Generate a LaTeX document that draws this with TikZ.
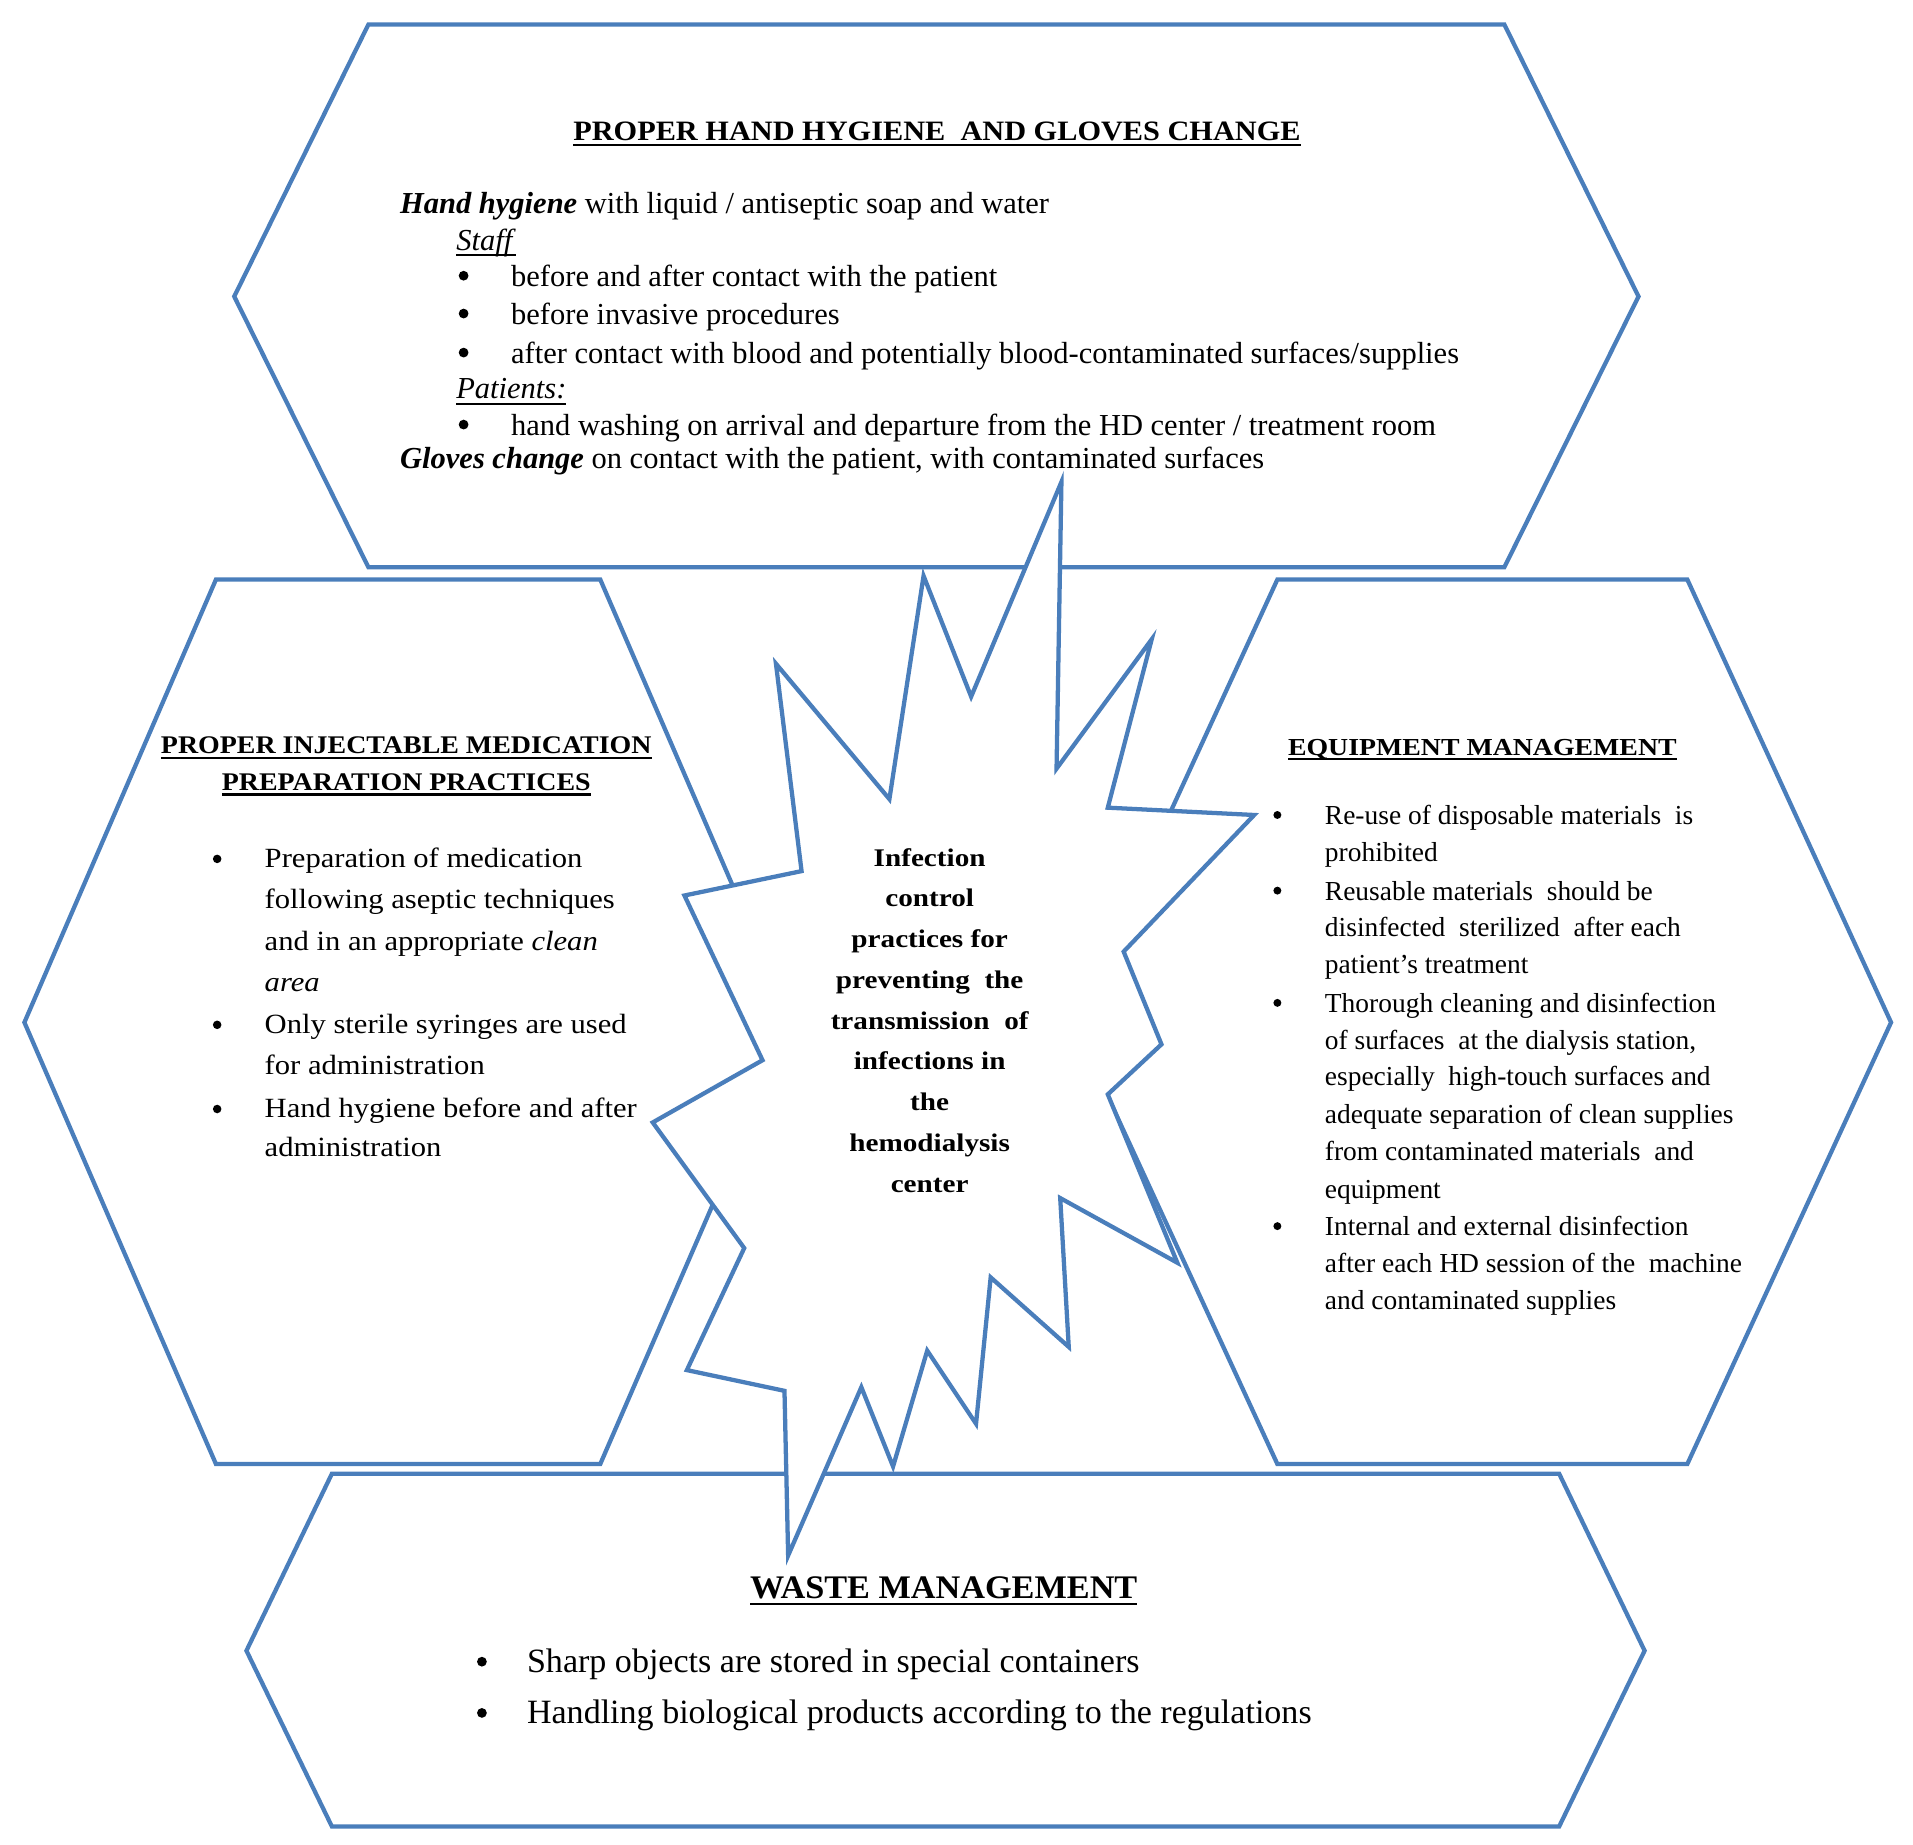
\documentclass[tikz,border=0pt]{standalone}
\usepackage{fontspec}
\setmainfont{Liberation Serif}
\newfontfamily\fTopT[FakeStretch=1.08]{Liberation Serif}
\newfontfamily\fLeft[FakeStretch=1.1]{Liberation Serif}
\newfontfamily\fRightT[FakeStretch=1.14]{Liberation Serif}
\newfontfamily\fCen[FakeStretch=1.15]{Liberation Serif}
\newfontfamily\fBotT[FakeStretch=1.04]{Liberation Serif}
\definecolor{hexblue}{RGB}{74,126,187}
\newsavebox{\ulbox}
\newcommand{\myul}[1]{\sbox{\ulbox}{#1}\rlap{\rule[-0.2em]{\wd\ulbox}{1.8pt}}\usebox{\ulbox}}
\tikzset{
  hex/.style={draw=hexblue, line width=3.5pt, line join=miter, fill=white},
  burst/.style={draw=hexblue, line width=3.5pt, line join=miter, fill=white},
  txt/.style={inner sep=0pt, outer sep=0pt, anchor=base west, text=black},
  ctxt/.style={inner sep=0pt, outer sep=0pt, anchor=base, text=black},
  bul/.style={circle, fill=black, draw=none, inner sep=0pt, minimum size=#1},
  topbody/.style={txt, font=\rmfamily\fontsize{25}{30}\selectfont},
  leftbody/.style={txt, font=\fLeft\fontsize{22.8}{34}\selectfont},
  lefttitle/.style={ctxt, font=\fLeft\bfseries\fontsize{20.8}{30}\selectfont},
  rightbody/.style={txt, font=\rmfamily\fontsize{22.5}{30}\selectfont},
  righttitle/.style={ctxt, font=\fRightT\bfseries\fontsize{20}{30}\selectfont},
  centtxt/.style={ctxt, font=\fCen\bfseries\fontsize{20.8}{33}\selectfont},
  botbody/.style={txt, font=\rmfamily\fontsize{27.9}{40}\selectfont},
}
\begin{document}
\begin{tikzpicture}[x=1pt,y=-1pt]
\useasboundingbox (0,0) rectangle (1568,1512);

% hexagons
\draw[hex] (302,20) -- (1233,20) -- (1343,243) -- (1233,465) -- (302,465) -- (192,243) -- cycle;
\draw[hex] (177,475) -- (492,475) -- (649,838) -- (492,1200) -- (177,1200) -- (20,838) -- cycle;
\draw[hex] (1047,475) -- (1383,475) -- (1550,838) -- (1383,1200) -- (1047,1200) -- (880,838) -- cycle;
\draw[hex] (272,1208) -- (1278,1208) -- (1348,1353) -- (1278,1497) -- (272,1497) -- (202,1353) -- cycle;

% starburst
\draw[burst] (870,395) -- (866,630) -- (944,524) -- (908,662) -- (1028,668) -- (921,780)
  -- (952,856) -- (908,897) -- (965,1035) -- (869,982) -- (876,1104) -- (812,1047)
  -- (800,1167) -- (760,1107) -- (732,1202) -- (706,1137) -- (646,1275) -- (643,1140)
  -- (563,1123) -- (610,1023) -- (535,920) -- (625,869) -- (561,734) -- (657,714)
  -- (636,544) -- (729,655) -- (757,472) -- (796,571) -- cycle;

% top hexagon text
\node[ctxt, font=\fTopT\bfseries\fontsize{23}{28}\selectfont] (ttitle) at (768,115) {\myul{PROPER HAND HYGIENE\ \ AND GLOVES CHANGE}};
\node[topbody] (t1) at (328,175) {\textbf{\textit{Hand hygiene}} with liquid / antiseptic soap and water};
\node[topbody] (t2) at (374,205) {\myul{\textit{Staff}}};
\node[bul=8pt] (tb1) at (380,226) {};
\node[topbody] (t3) at (419,235) {before and after contact with the patient};
\node[bul=8pt] (tb2) at (380,257) {};
\node[topbody] (t4) at (419,266) {before invasive procedures};
\node[bul=8pt] (tb3) at (380,289) {};
\node[topbody] (t5) at (419,298) {after contact with blood and potentially blood-contaminated surfaces/supplies};
\node[topbody] (t6) at (374,327) {\myul{\textit{Patients:}}};
\node[bul=8pt] (tb4) at (380,348) {};
\node[topbody] (t7) at (419,357) {hand washing on arrival and departure from the HD center / treatment room};
\node[topbody] (t8) at (328,384) {\textbf{\textit{Gloves change}} on contact with the patient, with contaminated surfaces};

% left hexagon text
\node[lefttitle] (ltitle1) at (333,618) {\myul{PROPER INJECTABLE MEDICATION}};
\node[lefttitle] (ltitle2) at (333,648) {\myul{PREPARATION PRACTICES}};
\node[bul=7pt] (lb1) at (178,704) {};
\node[leftbody] (l1) at (217,711) {Preparation of medication};
\node[leftbody] (l2) at (217,745) {following aseptic techniques};
\node[leftbody] (l3) at (217,779) {and in an appropriate \textit{clean}};
\node[leftbody] (l4) at (217,813) {\textit{area}};
\node[bul=7pt] (lb2) at (178,840) {};
\node[leftbody] (l5) at (217,847) {Only sterile syringes are used};
\node[leftbody] (l6) at (217,881) {for administration};
\node[bul=7pt] (lb3) at (178,909) {};
\node[leftbody] (l7) at (217,916) {Hand hygiene before and after};
\node[leftbody] (l8) at (217,948) {administration};

% right hexagon text
\node[righttitle] (rtitle) at (1215,619) {\myul{EQUIPMENT MANAGEMENT}};
\node[bul=6.5pt] (rb1) at (1047,668) {};
\node[rightbody] (r1) at (1086,676) {Re-use of disposable materials\ \ is};
\node[rightbody] (r2) at (1086,706) {prohibited};
\node[bul=6.5pt] (rb2) at (1047,730) {};
\node[rightbody] (r3) at (1086,738) {Reusable materials\ \ should be};
\node[rightbody] (r4) at (1086,768) {disinfected\ \ sterilized\ \ after each};
\node[rightbody] (r5) at (1086,798) {patient’s treatment};
\node[bul=6.5pt] (rb3) at (1047,822) {};
\node[rightbody] (r6) at (1086,830) {Thorough cleaning and disinfection};
\node[rightbody] (r7) at (1086,860) {of surfaces\ \ at the dialysis station,};
\node[rightbody] (r8) at (1086,890) {especially\ \ high-touch surfaces\ and};
\node[rightbody] (r9) at (1086,921) {adequate separation\ of clean supplies};
\node[rightbody] (r10) at (1086,951) {from contaminated materials\ \ and};
\node[rightbody] (r11) at (1086,982) {equipment};
\node[bul=6.5pt] (rb4) at (1047,1005) {};
\node[rightbody] (r12) at (1086,1013) {Internal and external\ disinfection};
\node[rightbody] (r13) at (1086,1043) {after each HD session of the\ \ machine};
\node[rightbody] (r14) at (1086,1073) {and contaminated\ supplies};

% centre text
\foreach \t [count=\i] in {Infection, control, practices for, preventing\ \ the, transmission\ \ of, infections\ in, the, hemodialysis, center}
  \node[centtxt] (c\i) at (762,{710+33.4*(\i-1)}) {\t};

% bottom hexagon text
\node[ctxt, font=\fBotT\bfseries\fontsize{27}{34}\selectfont] (btitle) at (773.5,1310) {\myul{WASTE MANAGEMENT}};
\node[bul=8pt] (bb1) at (395,1362) {};
\node[botbody] (b1) at (432,1371) {Sharp objects are stored in special containers};
\node[bul=8pt] (bb2) at (395,1404) {};
\node[botbody] (b2) at (432,1413) {Handling biological products according to the regulations};
\end{tikzpicture}
\end{document}
